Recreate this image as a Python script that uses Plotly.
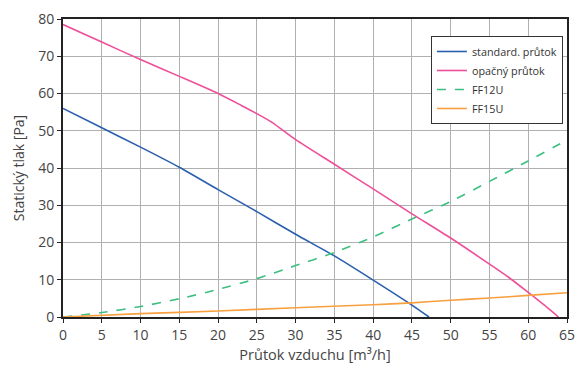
import plotly.graph_objects as go

# Airflow [m3/h] vs. static pressure [Pa]
std_x = [0, 5, 10, 15, 20, 25, 30, 35, 40, 45, 47.2]
std_y = [56, 50.8, 45.6, 40.2, 34.2, 28.3, 22.2, 16.4, 9.9, 3.2, 0]

rev_x = [0, 5, 10, 15, 20, 23, 25, 27, 30, 35, 40, 45, 50, 55, 57.5, 60, 62, 63.9]
rev_y = [78.5, 73.8, 69.1, 64.6, 60.0, 56.8, 54.6, 52.2, 47.6, 41.0, 34.4, 27.7, 21.2, 14.2, 10.6, 6.6, 3.3, 0]

ff12_x = [0, 5, 10, 15, 20, 25, 30, 35, 40, 45, 50, 55, 60, 65]
ff12_y = [0, 1.2, 2.8, 4.9, 7.4, 10.3, 13.8, 17.3, 21.5, 26.3, 31.0, 36.4, 41.9, 47.5]

ff15_x = [0, 10, 20, 30, 40, 45, 50, 55, 60, 65]
ff15_y = [0, 0.9, 1.6, 2.5, 3.3, 3.8, 4.5, 5.1, 5.8, 6.5]

x_ticks = list(range(0, 70, 5))
y_ticks = list(range(0, 90, 10))

series = [
    ("standard. průtok", std_x, std_y, "#2a5fae", "solid"),
    ("opačný průtok", rev_x, rev_y, "#ee4f99", "solid"),
    ("FF12U", ff12_x, ff12_y, "#3cbf80", "dash"),
    ("FF15U", ff15_x, ff15_y, "#f8a040", "solid"),
]

fig = go.Figure()
for name, xs, ys, color, dash in series:
    fig.add_trace(go.Scatter(
        x=xs, y=ys, mode="lines", name=name,
        line=dict(color=color, width=1.6, dash=dash, shape="spline", smoothing=0.6),
    ))

font_family = "Open Sans, DejaVu Sans, sans-serif"

axis_common = dict(
    showgrid=True, gridcolor="#b0b0b0", gridwidth=1.3,
    showline=True, linecolor="#222", linewidth=2, mirror=True,
    ticks="outside", ticklen=4, tickcolor="#222",
    zeroline=False, automargin=False,
    tickfont=dict(size=14, color="#444"),
)

fig.update_layout(
    width=579, height=365,
    margin=dict(l=63, r=12, t=19, b=48),
    paper_bgcolor="white", plot_bgcolor="white",
    font=dict(family=font_family, size=14, color="#444"),
    showlegend=True,
    legend=dict(
        x=0.730, y=0.943, xanchor="left", yanchor="top",
        bgcolor="white", bordercolor="#333", borderwidth=1,
        font=dict(size=10.8, color="#333"),
        tracegroupgap=0, itemwidth=30,
    ),
    xaxis=dict(
        range=[0, 65], tickvals=x_ticks,
        title=dict(text="Průtok vzduchu [m³/h]", font=dict(size=14.5, color="#444"), standoff=7),
        **axis_common,
    ),
    yaxis=dict(
        range=[0, 80], tickvals=y_ticks,
        title=dict(text="Statický tlak [Pa]", font=dict(size=14, color="#444"), standoff=10),
        **axis_common,
    ),
)

fig.write_html("out.html")
